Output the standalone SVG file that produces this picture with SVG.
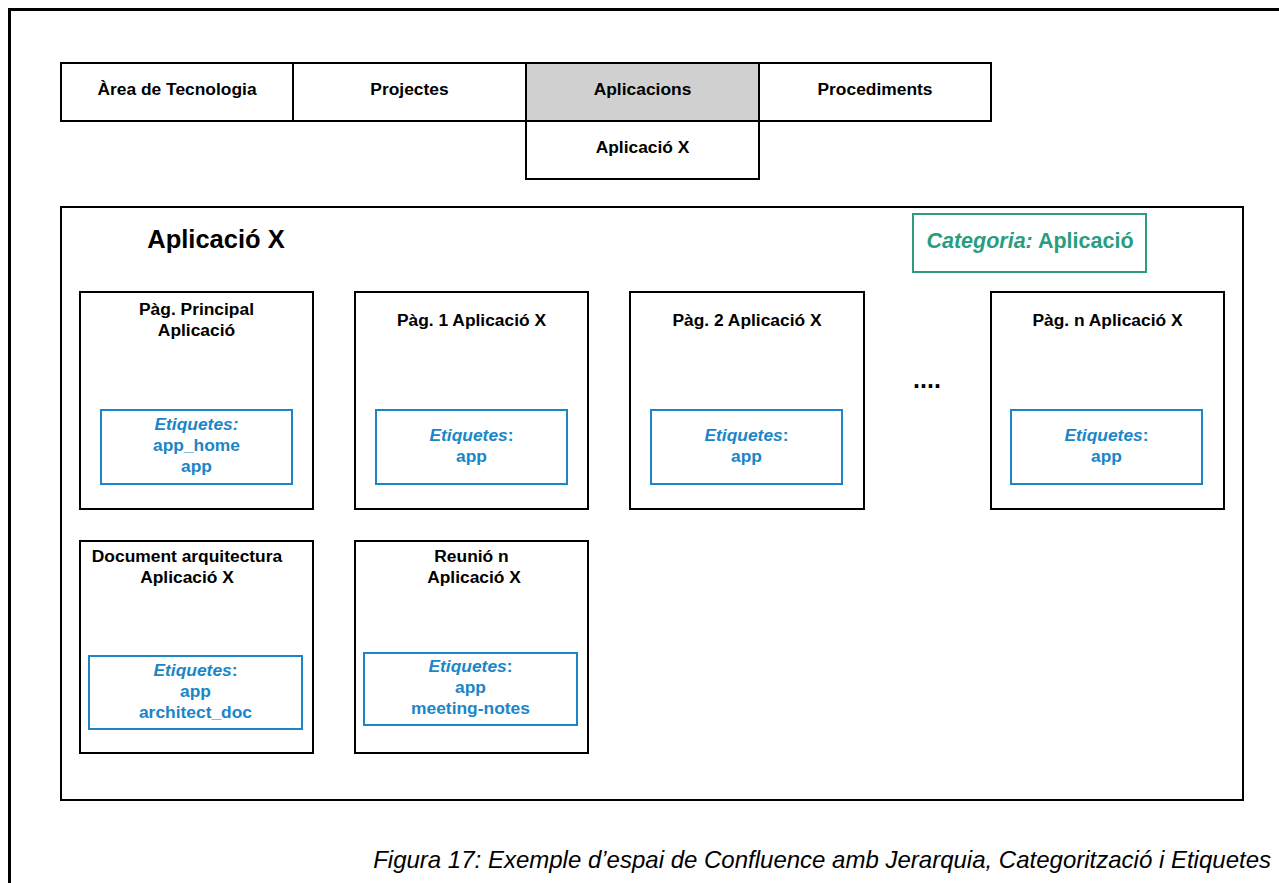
<svg xmlns="http://www.w3.org/2000/svg" width="1279" height="883" viewBox="0 0 1279 883">
  <style>
    .box { fill: #ffffff; stroke: #000000; stroke-width: 2; }
    .tag { fill: #ffffff; stroke: #1a86c8; stroke-width: 2; }
    .lbl { font-family: "Liberation Sans", Arial, sans-serif; font-size: 17.4px; font-weight: bold; fill: #000000; text-anchor: middle; }
    .tagtxt { font-family: "Liberation Sans", Arial, sans-serif; font-size: 17.4px; font-weight: bold; fill: #1a86c8; text-anchor: middle; }
    .it { font-style: italic; }
  </style>
  <rect x="0" y="0" width="1279" height="883" fill="#ffffff"/>
  <!-- page frame -->
  <path d="M9.5 883 V9.5 H1279" fill="none" stroke="#000000" stroke-width="3"/>

  <!-- navigation tabs -->
  <g id="tab-area">
    <rect class="box" x="61" y="63" width="232" height="58"/>
    <text class="lbl" x="177" y="95">Àrea de Tecnologia</text>
  </g>
  <g id="tab-projectes">
    <rect class="box" x="293" y="63" width="233" height="58"/>
    <text class="lbl" x="409.5" y="95">Projectes</text>
  </g>
  <g id="tab-aplicacions">
    <rect class="box" x="526" y="63" width="233" height="58" style="fill:#d0d0d0"/>
    <text class="lbl" x="642.5" y="95">Aplicacions</text>
  </g>
  <g id="tab-procediments">
    <rect class="box" x="759" y="63" width="232" height="58"/>
    <text class="lbl" x="875" y="95">Procediments</text>
  </g>
  <g id="tab-aplicacio-x">
    <rect class="box" x="526" y="121" width="233" height="58"/>
    <text class="lbl" x="642.5" y="153">Aplicació X</text>
  </g>

  <!-- space container -->
  <g id="space">
    <rect class="box" x="61" y="207" width="1182" height="593"/>
    <text x="216" y="248" font-family="Liberation Sans, Arial, sans-serif" font-size="25.5" font-weight="bold" text-anchor="middle" fill="#000000">Aplicació X</text>
  </g>

  <g id="categoria">
    <rect x="913" y="214" width="233" height="58" fill="#ffffff" stroke="#2a9d80" stroke-width="2"/>
    <text x="1030" y="248" font-family="Liberation Sans, Arial, sans-serif" font-size="21.5" font-weight="bold" text-anchor="middle" fill="#2a9d80"><tspan font-style="italic">Categoria:</tspan> Aplicació</text>
  </g>

  <!-- pages, first row -->
  <g id="page-principal">
    <rect class="box" x="80" y="292" width="233" height="217"/>
    <text class="lbl" x="196.5" y="315">Pàg. Principal</text>
    <text class="lbl" x="196.5" y="336">Aplicació</text>
    <rect class="tag" x="101" y="410" width="191" height="74"/>
    <text class="tagtxt it" x="196.5" y="430">Etiquetes:</text>
    <text class="tagtxt" x="196.5" y="451">app_home</text>
    <text class="tagtxt" x="196.5" y="472">app</text>
  </g>
  <g id="page-1">
    <rect class="box" x="355" y="292" width="233" height="217"/>
    <text class="lbl" x="471.5" y="326">Pàg. 1 Aplicació X</text>
    <rect class="tag" x="376" y="410" width="191" height="74"/>
    <text class="tagtxt" x="471.5" y="441"><tspan class="it">Etiquetes</tspan>:</text>
    <text class="tagtxt" x="471.5" y="462">app</text>
  </g>
  <g id="page-2">
    <rect class="box" x="630" y="292" width="234" height="217"/>
    <text class="lbl" x="747" y="326">Pàg. 2 Aplicació X</text>
    <rect class="tag" x="651" y="410" width="191" height="74"/>
    <text class="tagtxt" x="746.5" y="441"><tspan class="it">Etiquetes</tspan>:</text>
    <text class="tagtxt" x="746.5" y="462">app</text>
  </g>
  <g id="ellipsis">
    <text x="927" y="388" font-family="Liberation Sans, Arial, sans-serif" font-size="25" font-weight="bold" text-anchor="middle" fill="#000000">....</text>
  </g>
  <g id="page-n">
    <rect class="box" x="991" y="292" width="233" height="217"/>
    <text class="lbl" x="1107.5" y="326">Pàg. n Aplicació X</text>
    <rect class="tag" x="1011" y="410" width="191" height="74"/>
    <text class="tagtxt" x="1106.5" y="441"><tspan class="it">Etiquetes</tspan>:</text>
    <text class="tagtxt" x="1106.5" y="462">app</text>
  </g>

  <!-- pages, second row -->
  <g id="page-document">
    <rect class="box" x="80" y="541" width="233" height="212"/>
    <text class="lbl" x="187" y="562">Document arquitectura</text>
    <text class="lbl" x="187" y="583">Aplicació X</text>
    <rect class="tag" x="89" y="656" width="213" height="73"/>
    <text class="tagtxt" x="195.5" y="676"><tspan class="it">Etiquetes</tspan>:</text>
    <text class="tagtxt" x="195.5" y="697">app</text>
    <text class="tagtxt" x="195.5" y="718">architect_doc</text>
  </g>
  <g id="page-reunio">
    <rect class="box" x="355" y="541" width="233" height="212"/>
    <text class="lbl" x="471.5" y="562">Reunió n</text>
    <text class="lbl" x="474" y="583">Aplicació X</text>
    <rect class="tag" x="364" y="653" width="213" height="72"/>
    <text class="tagtxt" x="470.5" y="672"><tspan class="it">Etiquetes</tspan>:</text>
    <text class="tagtxt" x="470.5" y="693">app</text>
    <text class="tagtxt" x="470.5" y="714">meeting-notes</text>
  </g>

  <!-- caption -->
  <text x="1271" y="868" font-family="Liberation Sans, Arial, sans-serif" font-size="24" font-style="italic" text-anchor="end" fill="#000000">Figura 17: Exemple d’espai de Confluence amb Jerarquia, Categorització i Etiquetes</text>
</svg>
